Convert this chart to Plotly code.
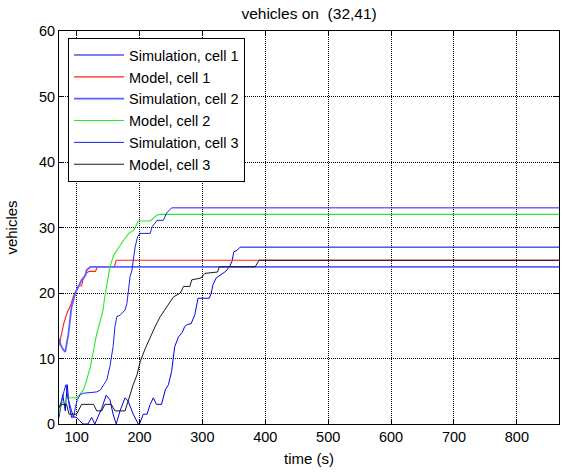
import plotly.graph_objects as go

# ---- data ----
# Simulation, cell 1 (thin dark blue, settles at 27)
sim1_t = [72, 75, 78, 82, 85, 88, 92, 95, 100, 105, 110, 118, 124, 129, 134, 140, 147, 153, 158, 163,
          169, 177, 182, 190, 198, 200, 206, 212, 217, 222, 227, 235, 241, 246, 251, 256, 262, 268,
          272, 276, 282, 288, 293, 311, 314, 317, 322, 337, 343, 347, 350, 355, 360, 867]
sim1_v = [1, 2.5, 4.5, 2, 6, 3, 1, 1.1, 1, 0.5, 0, 0, 1, 0, 1, 2.4, 4.4, 3.7, 1.5, 0,
          2, 4, 3.5, 1.5, 0, 0, 1.5, 1.5, 3, 4, 3, 3, 5.2, 6, 8, 11.8, 13.3, 14,
          14.9, 15.2, 15.3, 16.7, 19.2, 19.2, 20, 21.3, 22.3, 23.3, 24, 24.8, 26.3, 26.5, 27, 27]

# Model, cell 1 (red, settles at 25)
mod1_t = [72, 75, 80, 85, 90, 95, 100, 103, 108, 110, 115, 120, 130, 133, 160, 163, 867]
mod1_v = [12, 13.5, 15.5, 17, 18, 19.5, 20.5, 21.1, 21.1, 22, 23, 23.3, 23.3, 24, 24, 25, 25]

# Simulation, cell 2 (light blue, settles at 24)
sim2_t = [72, 75, 79, 82, 87, 92, 98, 103, 108, 114, 116, 122, 867]
sim2_v = [13, 12, 11.3, 11, 13.8, 17.9, 20, 21, 22, 22.7, 23.5, 24, 24]

# Model, cell 2 (green, settles at 32)
mod2_t = [72, 75, 82, 85, 100, 106, 111, 116, 122, 127, 132, 138, 142, 144, 148, 153, 159,
          167, 175, 183, 191, 198, 217, 228, 233, 867]
mod2_v = [1.5, 3.2, 3.3, 4, 4, 4.7, 5.2, 6.7, 8.8, 11.3, 13.8, 15.9, 17.4, 18.9, 21.5, 24, 25.8,
          27, 28.1, 29.1, 29.6, 31, 31, 31.9, 32, 32]

# Simulation, cell 3 (blue, settles at 33)
sim3_t = [72, 76, 80, 83, 86, 89, 92, 95, 98, 101, 106, 111, 132, 138, 143, 148, 153, 158, 161,
          164, 169, 177, 180, 183, 185, 188, 191, 193, 197, 201, 217, 220, 228, 238, 243, 251, 867]
sim3_v = [2.5, 3.5, 5, 6, 4, 3, 2, 1, 2.5, 3.7, 4.5, 4.7, 4.9, 5.2, 6, 6.7, 8.8, 11.8, 14.9,
          16.4, 16.6, 17.4, 18.4, 20.5, 22.5, 23.5, 25.5, 27, 28.6, 29.1, 29.1, 30.1, 31.1, 31.1, 32.2, 33, 33]

# Model, cell 3 (black, settles at 25)
mod3_t = [72, 76, 84, 88, 100, 108, 127, 132, 140, 145, 155, 161, 177, 182, 190, 196, 201, 209,
          217, 225, 233, 243, 254, 265, 270, 280, 283, 298, 304, 324, 327, 384, 390, 867]
mod3_v = [2.5, 3, 3, 1.5, 1.5, 3, 3, 2, 2, 3, 3, 2, 2, 3.7, 6, 7.5, 9.5, 11.5,
          13.3, 14.9, 16.4, 17.9, 19.4, 20, 21, 21, 22, 22.3, 23, 23.2, 24, 24, 25, 25]

x_ticks = [100, 200, 300, 400, 500, 600, 700, 800]
y_ticks = [0, 10, 20, 30, 40, 50, 60]

FONT = "Liberation Sans, Arial, sans-serif"

fig = go.Figure()
fig.add_trace(go.Scatter(x=sim1_t, y=sim1_v, mode="lines", name="Simulation, cell 1",
                         line=dict(color="rgb(0,0,230)", width=1)))
fig.add_trace(go.Scatter(x=mod1_t, y=mod1_v, mode="lines", name="Model, cell 1",
                         line=dict(color="rgb(255,30,30)", width=1.1)))
fig.add_trace(go.Scatter(x=sim2_t, y=sim2_v, mode="lines", name="Simulation, cell 2",
                         line=dict(color="rgb(95,95,255)", width=1.8)))
fig.add_trace(go.Scatter(x=mod2_t, y=mod2_v, mode="lines", name="Model, cell 2",
                         line=dict(color="rgb(40,235,40)", width=1.1)))
fig.add_trace(go.Scatter(x=sim3_t, y=sim3_v, mode="lines", name="Simulation, cell 3",
                         line=dict(color="rgb(30,30,250)", width=1)))
fig.add_trace(go.Scatter(x=mod3_t, y=mod3_v, mode="lines", name="Model, cell 3",
                         line=dict(color="black", width=0.9)))

axis_common = dict(
    showline=True, linecolor="black", linewidth=1, mirror="ticks",
    ticks="inside", ticklen=5, tickcolor="black",
    showgrid=True, gridcolor="black", gridwidth=1, griddash="1px,1px",
    zeroline=False, automargin=False,
    tickfont=dict(family=FONT, size=14.5, color="black"),
)

fig.update_xaxes(range=[72, 867], tickvals=x_ticks, title=dict(text="time (s)", standoff=9,
                 font=dict(family=FONT, size=15, color="black")), **axis_common)
fig.update_yaxes(range=[0, 60], tickvals=y_ticks, title=dict(text="vehicles", standoff=17,
                 font=dict(family=FONT, size=15, color="black")), **axis_common)

fig.update_layout(
    width=563, height=472,
    margin=dict(l=59, r=4, t=31, b=48, autoexpand=False),
    paper_bgcolor="white", plot_bgcolor="white",
    hovermode=False,
    title=dict(text="vehicles on  (32,41)", x=0.549, xanchor="center", y=0.972, yanchor="middle",
               automargin=False, font=dict(family=FONT, size=15.5, color="black")),
    font=dict(family=FONT, color="black"),
    legend=dict(x=0.018, y=0.982, xanchor="left", yanchor="top",
                bgcolor="white", bordercolor="black", borderwidth=1, itemwidth=50,
                tracegroupgap=0,
                font=dict(family=FONT, size=14.5, color="black")),
    showlegend=True,
)

fig.write_html(
    "out.html",
    config={"displayModeBar": False, "staticPlot": True},
    post_script="document.body.style.margin='0';document.body.style.overflow='hidden';"
                "document.documentElement.style.overflow='hidden';",
)
